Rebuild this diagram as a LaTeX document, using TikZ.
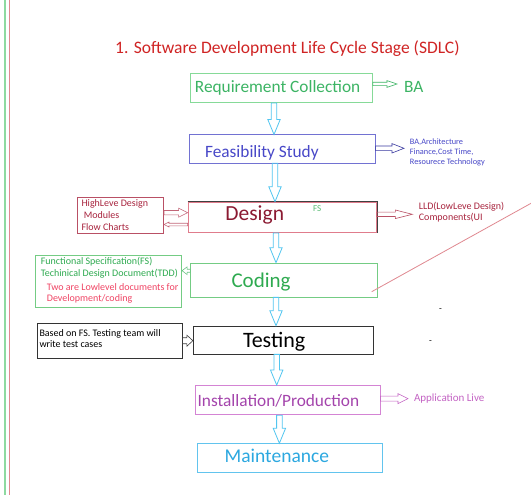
\documentclass[tikz,border=0pt]{standalone}
\usepackage{fontspec}
\setmainfont{Carlito}
\usetikzlibrary{calc}

\definecolor{titlered}{HTML}{D02424}
\definecolor{edgegreen}{HTML}{8ED9A0}
\definecolor{edgered}{HTML}{E08890}
\definecolor{reqgreen}{HTML}{3CB464}
\definecolor{reqline}{HTML}{86DA98}
\definecolor{feasblue}{HTML}{4848C8}
\definecolor{feasline}{HTML}{7272D2}
\definecolor{designred}{HTML}{8B1A32}
\definecolor{designline}{HTML}{E07C8C}
\definecolor{hldred}{HTML}{A8243E}
\definecolor{codegreen}{HTML}{2EAA50}
\definecolor{codeline}{HTML}{74CC84}
\definecolor{notered}{HTML}{F04464}
\definecolor{instpurple}{HTML}{A444AC}
\definecolor{instline}{HTML}{D484D4}
\definecolor{livepink}{HTML}{C464C4}
\definecolor{maintblue}{HTML}{2CA8E0}
\definecolor{maintline}{HTML}{62C4EE}
\definecolor{flowblue}{HTML}{52C6F0}

\newcommand{\blockarrow}[6]{%
  \coordinate (ba-s) at (#2);
  \coordinate (ba-t) at (#3);
  \coordinate (ba-h) at ($(ba-t)!#6!(ba-s)$);
  \draw[#1]
    ($(ba-s)!#4!90:(ba-t)$) -- ($(ba-h)!#4!-90:(ba-s)$) -- ($(ba-h)!#5!-90:(ba-s)$)
    -- (ba-t) -- ($(ba-h)!#5!90:(ba-s)$) -- ($(ba-h)!#4!90:(ba-s)$)
    -- ($(ba-s)!#4!-90:(ba-t)$) -- cycle;
}
\newcommand{\flowarrow}[2]{\blockarrow{flowblue, line width=0.8pt}{#1}{#2}{2.8pt}{6.2pt}{15pt}}

\begin{document}
\begin{tikzpicture}[x=1pt, y=-1pt,
    stage/.style={draw, inner sep=0, line width=0.7pt},
    note/.style={anchor=base west, inner sep=0}]
    \useasboundingbox (0,0) rectangle (531,495);
    \fill[white] (0,0) rectangle (531,495);
    \draw[edgegreen, line width=2pt] (4.7,0) -- (4.7,495);
    \draw[edgered, line width=0.9pt] (9.3,0) -- (9.3,495);

    \node[note, titlered, font=\fontsize{17.5}{20}\selectfont]
        (title) at (115,53.5) {1. Software Development Life Cycle Stage (SDLC)};

    \begin{scope}[every node/.style={stage}]
        \node[draw=reqline, minimum width=181.8pt, minimum height=28.8pt]     (req)     at (281.6,88.2) {};
        \node[draw=feasline, minimum width=186.2pt, minimum height=28.1pt]    (feas)    at (282.1,148.9) {};
        \node[draw=designline, minimum width=188.7pt, minimum height=30.5pt]  (design)  at (282.3,217.3) {};
        \node[draw=codeline, minimum width=186.2pt, minimum height=34pt]      (coding)  at (283.8,280) {};
        \node[draw=black!80, minimum width=180.3pt, minimum height=28pt]      (testing) at (283.4,340) {};
        \node[draw=instline, minimum width=184.3pt, minimum height=29.4pt]    (install) at (287.9,400.1) {};
        \node[draw=maintline, minimum width=185.3pt, minimum height=28.8pt]   (maint)   at (290,458) {};
        \node[draw=hldred!80, minimum width=86.4pt, minimum height=36.2pt]    (hldbox)  at (120.4,215.1) {};
        \node[draw=codeline, minimum width=146pt, minimum height=51.6pt]      (fsbox)   at (108.7,281.5) {};
        \node[draw=black!80, minimum width=145pt, minimum height=35pt]        (testbox) at (109.8,340.8) {};
    \end{scope}
    \draw[black!75, line width=0.7pt] (design.north west) -- (design.north east) -- (design.south east);

    \begin{scope}[every node/.style={note, font=\fontsize{17.3}{19}\selectfont}]
        \node[reqgreen]   (reqtxt)     at (194.7,92.4)  {Requirement Collection};
        \node[reqgreen]   (ba)         at (404,93)      {BA};
        \node[feasblue]   (feastxt)    at (204.9,157.5) {Feasibility Study};
        \node[instpurple] (installtxt) at (197.4,406.4) {Installation/Production};
        \node[maintblue, font=\fontsize{19.5}{21}\selectfont]
                          (mainttxt)   at (224.5,462.2) {Maintenance};
    \end{scope}
    \begin{scope}[every node/.style={note, font=\fontsize{21.5}{23}\selectfont}]
        \node[designred]  (designtxt)  at (225.2,220.6) {Design};
        \node[codegreen, font=\fontsize{21}{23}\selectfont]
                          (codingtxt)  at (231.3,287.7) {Coding};
        \node[black, font=\fontsize{22}{24}\selectfont]
                          (testingtxt) at (242.8,347.1) {Testing};
    \end{scope}
    \begin{scope}[every node/.style={note, font=\fontsize{10}{11}\selectfont}]
        \node[hldred]    (hld1)  at (81.3,206.4)  {HighLeve Design};
        \node[hldred]    (hld2)  at (83.6,218.3)  {Modules};
        \node[hldred]    (hld3)  at (81.3,230.1)  {Flow Charts};
        \node[hldred]    (lld1)  at (418.7,209.3) {LLD(LowLeve Design)};
        \node[hldred]    (lld2)  at (418.7,220.7) {Components(UI};
        \node[codegreen] (fs1)   at (40.7,264)    {Functional Specification(FS)};
        \node[codegreen] (fs2)   at (40.7,276)    {Techinical Design Document(TDD)};
        \node[notered]   (fs3)   at (46.7,290)    {Two are Lowlevel documents for};
        \node[notered]   (fs4)   at (46.7,301.7)  {Development/coding};
        \node[black]     (test1) at (39.3,336)    {Based on FS. Testing team will};
        \node[black]     (test2) at (39.3,347.3)  {write test cases};
        \node[livepink, font=\fontsize{11}{12}\selectfont]
                         (live)  at (413.8,401.3) {Application Live};
    \end{scope}
    \begin{scope}[every node/.style={note, font=\fontsize{8.3}{9}\selectfont, feasblue}]
        \node (feas1) at (409.7,145)   {BA,Architecture};
        \node (feas2) at (409.7,154.6) {Finance,Cost Time,};
        \node (feas3) at (409.7,164.3) {Resourece Technology};
    \end{scope}
    \node[note, codegreen!80, font=\fontsize{9}{10}\selectfont] (fstag) at (313,211.8) {FS};
    \node[note, font=\fontsize{9}{10}\selectfont] (dash1) at (439,311) {-};
    \node[note, font=\fontsize{9}{10}\selectfont] (dash2) at (429,343) {-};

    \flowarrow{req.south -| 274,0}{feas.north -| 274,0}
    \flowarrow{feas.south -| 275,0}{design.north -| 275,0}
    \flowarrow{design.south -| 276,0}{coding.north -| 276,0}
    \flowarrow{coding.south -| 276,0}{testing.north -| 276,0}
    \flowarrow{testing.south -| 276.7,0}{install.north -| 276.7,0}
    \flowarrow{install.south -| 279.4,0}{maint.north -| 279.4,0}

    \blockarrow{reqgreen, line width=0.6pt}{req.east |- 0,84}{397,84}{1.7pt}{3.4pt}{10pt}
    \blockarrow{feasblue!80!black, line width=0.6pt}{feas.east |- 0,148.3}{404,148.3}{2.3pt}{4.7pt}{12pt}
    \blockarrow{hldred!80, line width=0.6pt}{design.east |- 0,214.3}{412.3,214.3}{2.2pt}{4.3pt}{17pt}
    \blockarrow{hldred!70, line width=0.6pt}{hldbox.east |- 0,212.7}{design.west |- 0,212.7}{2.2pt}{4.5pt}{9pt}
    \blockarrow{hldred!70, line width=0.6pt}{design.west |- 0,224.5}{hldbox.east |- 0,224.5}{1.3pt}{2.4pt}{5pt}
    \blockarrow{codegreen!70, line width=0.6pt}{coding.west |- 0,270.7}{fsbox.east |- 0,270.7}{1.5pt}{3.8pt}{5pt}
    \blockarrow{black!75, line width=0.6pt}{testbox.east |- 0,340.7}{testing.west |- 0,340.7}{3pt}{5.5pt}{6pt}
    \blockarrow{livepink, line width=0.6pt}{install.east |- 0,398.6}{408,398.6}{2.5pt}{5pt}{10pt}

    \draw[edgered, line width=0.8pt] (371.7,291.7) -- (531,203.3);
\end{tikzpicture}
\end{document}
